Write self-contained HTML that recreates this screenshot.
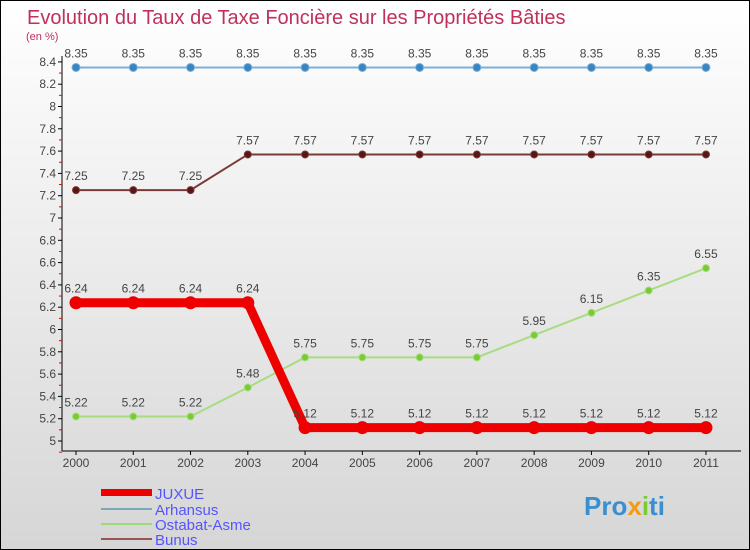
<!DOCTYPE html>
<html><head><meta charset="utf-8"><style>
body{margin:0}
#c{position:relative;width:748px;height:548px;border:1px solid #000;background:linear-gradient(#fff,#d6d6d6);font-family:"Liberation Sans",sans-serif;overflow:hidden}
</style></head><body>
<div id="c">
<svg width="748" height="548">
<text x="26" y="23" font-size="20" fill="#c0305a">Evolution du Taux de Taxe Foncière sur les Propriétés Bâties</text>
<text x="25" y="39" font-size="11" fill="#c0305a">(en %)</text>
<g id="axes"></g><g id="series"></g>
<g>
<rect x="100" y="488" width="51" height="7" fill="#e00"/>
<text x="154" y="498" font-size="15" fill="#55f">JUXUE</text>
<rect x="100" y="507" width="51" height="2" fill="#7ab"/>
<text x="154" y="514" font-size="15" fill="#55f">Arhansus</text>
<rect x="100" y="522" width="51" height="2" fill="#9d7"/>
<text x="154" y="529" font-size="15" fill="#55f">Ostabat-Asme</text>
<rect x="100" y="537" width="51" height="2" fill="#955"/>
<text x="154" y="544" font-size="15" fill="#55f">Bunus</text>
</g>
<text x="583" y="514" font-size="26" font-weight="bold" fill="#3a8fd0">Pro<tspan fill="#f39c12">x</tspan><tspan fill="#7c3">i</tspan>ti</text>
</svg></div>
<script>
const years=[2000,2001,2002,2003,2004,2005,2006,2007,2008,2009,2010,2011];
const juxue=[6.24,6.24,6.24,6.24,5.12,5.12,5.12,5.12,5.12,5.12,5.12,5.12];
const arhansus=[8.35,8.35,8.35,8.35,8.35,8.35,8.35,8.35,8.35,8.35,8.35,8.35];
const ostabat=[5.22,5.22,5.22,5.48,5.75,5.75,5.75,5.75,5.95,6.15,6.35,6.55];
const bunus=[7.25,7.25,7.25,7.57,7.57,7.57,7.57,7.57,7.57,7.57,7.57,7.57];
const yTicks=[5,5.2,5.4,5.6,5.8,6,6.2,6.4,6.6,6.8,7,7.2,7.4,7.6,7.8,8,8.2,8.4];
const NS="http://www.w3.org/2000/svg";
const X=i=>75+i*57.27, Y=v=>440-(v-5)/0.2*22.3;
function mk(t,a,p){const e=document.createElementNS(NS,t);for(const k in a)e.setAttribute(k,a[k]);p.appendChild(e);return e;}
const ax=document.getElementById('axes');
let e=mk('line',{x1:61,y1:55,x2:61,y2:450,stroke:'#000'},ax);


e=mk('line',{x1:61,y1:450,x2:740,y2:450,stroke:'#000'},ax);


yTicks.forEach((v,i)=>{
 mk('line',{x1:57,x2:61,y1:Y(v),y2:Y(v),stroke:'#000'},ax);
 mk('line',{x1:58,x2:61,y1:Y(v)+11.15,y2:Y(v)+11.15,stroke:'#e00'},ax);
 const t=mk('text',{x:55,y:Y(v)+4,'font-size':12,fill:'#444','text-anchor':'end'},ax);t.textContent=v;
 
 
});
years.forEach((y,i)=>{
 mk('line',{x1:X(i),x2:X(i),y1:450,y2:454,stroke:'#000'},ax);
 const t=mk('text',{x:X(i),y:466,'font-size':12,fill:'#444','text-anchor':'middle'},ax);t.textContent=y;
 
 
});
const sg=document.getElementById('series');
function series(d,col,w,r,dot,name,fs){
 const g=mk('g',{},sg);
 
 
 mk('polyline',{points:d.map((v,i)=>X(i)+','+Y(v)).join(' '),fill:'none',stroke:col,'stroke-width':w},g);
 d.forEach((v,i)=>{
  const c=mk('circle',{cx:X(i),cy:Y(v),r:r,fill:dot,stroke:col,'stroke-width':1},g);
  
  
  const t=mk('text',{x:X(i),y:Y(v)-10,'font-size':fs,fill:'#444','text-anchor':'middle'},g);t.textContent=v;
  
  
 });
}
series(arhansus,'#7ab0d8',2,4,'#3a85c0','arhansus',12);
series(bunus,'#7a3a3a',2,3.5,'#5a1515','bunus',12);
series(ostabat,'#a8dc80',2,3.5,'#7c3','ostabat',12);
series(juxue,'#e00',9,6,'#e00','juxue',12);
</script>
</body></html>
